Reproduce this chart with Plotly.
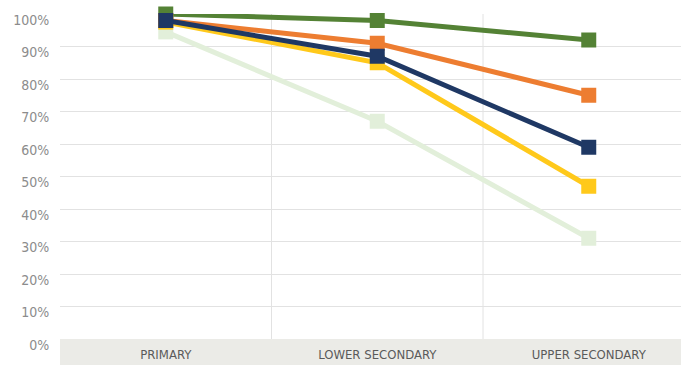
import plotly.graph_objects as go

# School completion by level (percent)
levels = ["PRIMARY", "LOWER SECONDARY", "UPPER SECONDARY"]
series_light = [94.5, 67, 31]
series_green = [100, 98, 92]
series_yellow = [97.5, 85, 47]
series_orange = [98, 91, 75]
series_navy = [98, 87, 59]

y_ticks = [0, 10, 20, 30, 40, 50, 60, 70, 80, 90, 100]
y_ticktext = [f"{v}%" for v in y_ticks]

W, H = 681, 365
M_L, M_R, M_T, M_B = 60, 0, 14, 26
plot_h = H - M_T - M_B
cat_px = 211.5

font_family = "Liberation Sans Narrow, DejaVu Sans Condensed, Arial Narrow, sans-serif"

traces = [
    (series_light, "#e2efda"),
    (series_green, "#548235"),
    (series_yellow, "#ffc91b"),
    (series_orange, "#ed7d31"),
    (series_navy, "#1f3864"),
]

xs = list(range(len(levels)))
fig = go.Figure()
for vals, color in traces:
    fig.add_trace(go.Scatter(
        x=xs, y=vals, mode="lines+markers",
        line=dict(color=color, width=5),
        marker=dict(symbol="square", size=15, color=color),
        cliponaxis=False, hoverinfo="skip", showlegend=False,
    ))

shapes = []
# grey band holding the category labels
shapes.append(dict(type="rect", xref="paper", yref="paper",
                   x0=0, x1=1, y0=-M_B / plot_h, y1=0,
                   fillcolor="#ebebe7", line=dict(width=0), layer="below"))
# vertical separators between categories
for i in range(len(levels) - 1):
    shapes.append(dict(type="line", xref="x", yref="y",
                       x0=i + 0.5, x1=i + 0.5, y0=0, y1=100,
                       line=dict(color="#e2e2e2", width=1), layer="below"))

fig.update_layout(
    width=W, height=H,
    margin=dict(l=M_L, r=M_R, t=M_T, b=M_B, pad=0),
    paper_bgcolor="white", plot_bgcolor="white",
    shapes=shapes,
    xaxis=dict(
        range=[-0.5, -0.5 + (W - M_L - M_R) / cat_px],
        tickvals=xs, ticktext=levels,
        showgrid=False, zeroline=False, showline=False,
        ticks="outside", ticklen=3, tickcolor="rgba(0,0,0,0)",
        tickfont=dict(family=font_family, size=13, color="#5a5a5a"),
    ),
    yaxis=dict(
        range=[0, 100],
        tickvals=y_ticks, ticktext=y_ticktext,
        showgrid=True, gridcolor="#e2e2e2", gridwidth=1,
        zeroline=False, showline=False,
        ticks="outside", ticklen=7, tickcolor="rgba(0,0,0,0)",
        ticklabelshift=6,
        tickfont=dict(family=font_family, size=14, color="#8c8c8c"),
    ),
)

fig.write_html("out.html")
